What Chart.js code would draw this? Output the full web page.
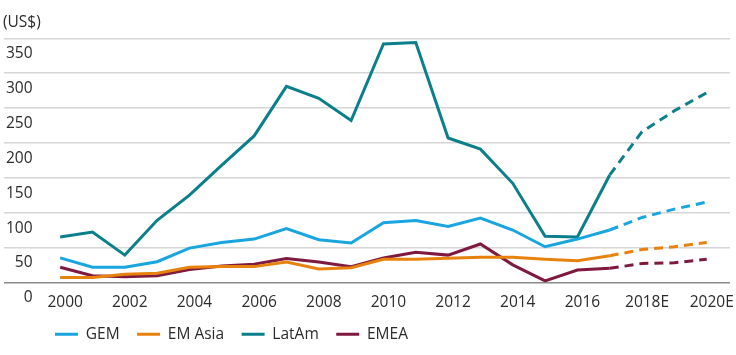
<!DOCTYPE html>
<html>
<head>
<meta charset="utf-8">
<script src="https://cdn.jsdelivr.net/npm/chart.js@4/dist/chart.umd.min.js"></script>
<style>
  html, body { margin: 0; padding: 0; background: #ffffff; }
  #wrap { width: 736px; height: 355px; position: relative; }
</style>
</head>
<body>
<div id="wrap"><canvas id="c"></canvas></div>
<script>
const years = [2000, 2001, 2002, 2003, 2004, 2005, 2006, 2007, 2008, 2009, 2010,
               2011, 2012, 2013, 2014, 2015, 2016, 2017, 2018, 2019, 2020];
const forecastFrom = 2017;
const unitLabel = '(US$)';
const seriesNames = ['GEM', 'EM Asia', 'LatAm', 'EMEA'];
const gem    = [35, 21.5, 21.5, 29.5, 49, 57, 62, 77, 61, 56.5, 85.5, 88.5, 80, 92, 75, 51, 62, 75, 93, 105, 115];
const emAsia = [7, 7, 11.5, 13, 21.5, 22.5, 22.5, 29, 19, 21, 33, 33, 34.5, 36, 36, 33, 31, 38, 47, 51, 57];
const latAm  = [65, 72, 39, 89, 125, 168, 210, 281, 264, 232, 342, 344, 207, 191, 142, 66, 65, 154, 216, 246, 272];
const emea   = [21.5, 9.5, 8, 9.5, 18.5, 23.5, 26, 34, 29, 22.5, 35, 43, 39, 55, 25, 2, 17.5, 20, 27, 28, 33];
const colors = ['#18a5e0', '#e8820e', '#0b7f8b', '#80193f'];
const seriesData = [gem, emAsia, latAm, emea];

Chart.defaults.font.family = "'Open Sans', 'Noto Sans', sans-serif";
Chart.defaults.font.size = 15.5;
Chart.defaults.color = '#2b2b2b';

const nudge = {
  id: 'nudge',
  afterLayout(chart) {
    chart.legend.left += 37.5;
    chart.legend.top -= 3;
    if (chart.titleBlock) chart.titleBlock.left += 3;
  }
};

const datasets = seriesNames.map((name, i) => ({
  label: name,
  data: seriesData[i],
  borderColor: colors[i],
  backgroundColor: colors[i],
  borderWidth: 3,
  pointRadius: 0,
  pointHoverRadius: 0,
  tension: 0,
  fill: false,
  segment: {
    borderDash: ctx => ctx.p0.parsed.x >= forecastFrom ? [9, 6] : undefined
  }
}));

new Chart(document.getElementById('c'), {
  type: 'line',
  data: { labels: years, datasets },
  plugins: [nudge],
  options: {
    responsive: true,
    maintainAspectRatio: false,
    animation: false,
    layout: { padding: { left: 0, right: 6, top: 0, bottom: 0 } },
    plugins: {
      title: {
        display: true,
        text: unitLabel,
        align: 'start',
        color: '#2b2b2b',
        font: { size: 15.5, weight: 'normal' },
        padding: { top: 13.2, bottom: 6.5 }
      },
      legend: {
        position: 'bottom',
        align: 'start',
        labels: {
          boxWidth: 23,
          boxHeight: 3,
          padding: 17.5,
          color: '#2b2b2b',
          font: { size: 15.5 },
          generateLabels(chart) {
            const items = Chart.defaults.plugins.legend.labels.generateLabels(chart);
            return items.map(it => Object.assign(it, { lineWidth: 0, lineDash: [], strokeStyle: 'rgba(0,0,0,0)' }));
          }
        }
      },
      tooltip: { enabled: false }
    },
    scales: {
      x: {
        type: 'linear',
        min: 1998.263,
        max: 2020.72,
        grid: { display: false },
        border: { display: false },
        ticks: {
          stepSize: 2,
          includeBounds: false,
          autoSkip: false,
          maxRotation: 0,
          padding: 3,
          labelOffset: 5,
          color: '#2b2b2b',
          callback: v => (v >= 2018 ? v + 'E' : String(v))
        },
        afterFit(scale) {
          scale.paddingLeft = 0;
          scale.paddingRight = 0;
          scale.height = 29.7;
        }
      },
      y: {
        min: 0,
        max: 350,
        grid: {
          drawTicks: false,
          color: ctx => (ctx.tick && ctx.tick.value === 0 ? '#8a8a8a' : '#d6d6d6'),
          lineWidth: 1.5
        },
        border: { display: false },
        ticks: {
          stepSize: 50,
          mirror: true,
          crossAlign: 'far',
          padding: 2,
          labelOffset: 15.5,
          color: '#2b2b2b'
        }
      }
    }
  }
});
</script>
</body>
</html>
